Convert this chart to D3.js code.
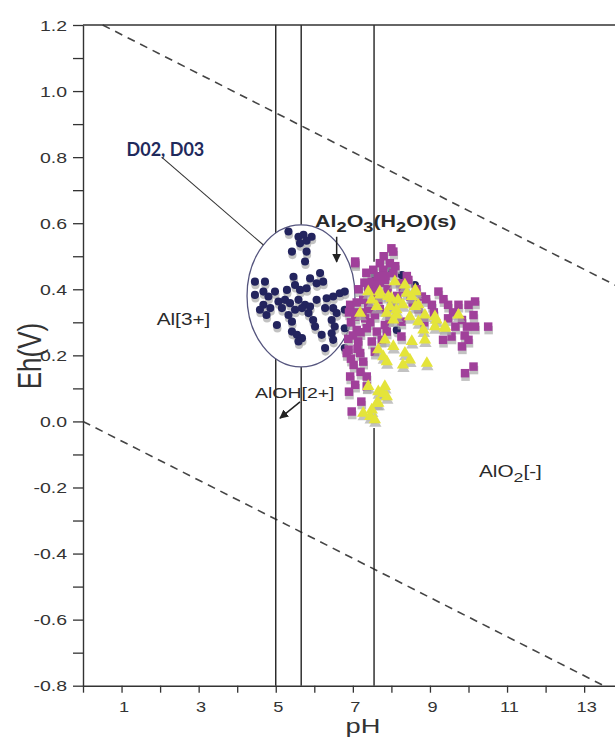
<!DOCTYPE html>
<html><head><meta charset="utf-8">
<script src="https://cdn.jsdelivr.net/npm/d3@7"></script>
<style>html,body{margin:0;padding:0;background:#fff;overflow:hidden}</style>
</head><body><svg id="c" width="615" height="738"></svg>
<script>
// ---- data (pH, Eh in V) ----
const navyPts = [[5.33,0.575],[5.59,0.559],[5.72,0.565],[5.93,0.559],[5.63,0.539],[5.80,0.547],[5.42,0.514],[5.80,0.514],[5.76,0.484],[5.46,0.438],[5.89,0.433],[6.15,0.449],[4.46,0.423],[4.72,0.423],[5.50,0.413],[5.29,0.398],[5.63,0.398],[5.80,0.403],[6.06,0.418],[6.23,0.423],[4.46,0.383],[4.68,0.393],[4.98,0.393],[5.07,0.363],[5.24,0.368],[5.37,0.358],[5.59,0.368],[5.76,0.353],[5.89,0.348],[6.06,0.368],[6.32,0.373],[6.49,0.378],[6.66,0.388],[6.79,0.393],[4.68,0.353],[4.86,0.343],[4.59,0.338],[4.76,0.322],[5.16,0.343],[5.33,0.322],[5.50,0.338],[5.68,0.343],[5.85,0.328],[6.28,0.343],[6.49,0.343],[6.58,0.328],[6.79,0.338],[5.03,0.292],[5.42,0.302],[5.97,0.307],[6.02,0.287],[6.45,0.307],[6.53,0.287],[6.79,0.282],[5.42,0.272],[5.55,0.262],[5.68,0.252],[6.19,0.262],[6.45,0.267],[6.49,0.247],[5.59,0.242],[6.28,0.222],[6.79,0.222],[4.81,0.378],[7.57,0.443],[8.27,0.443],[8.14,0.277],[8.61,0.413],[7.96,0.465]];
const magentaPts = [[8.05,0.514],[7.06,0.479],[7.70,0.479],[7.96,0.479],[7.53,0.459],[7.79,0.459],[8.05,0.449],[7.49,0.423],[7.83,0.428],[8.22,0.418],[8.44,0.428],[9.22,0.393],[6.93,0.353],[7.27,0.368],[7.40,0.353],[7.66,0.368],[8.49,0.378],[8.79,0.378],[9.05,0.353],[9.47,0.353],[9.74,0.353],[10.00,0.353],[10.17,0.363],[7.06,0.317],[7.32,0.312],[7.57,0.322],[7.83,0.292],[8.26,0.302],[9.47,0.312],[9.83,0.307],[10.13,0.322],[10.51,0.287],[7.10,0.277],[7.36,0.282],[7.62,0.272],[7.88,0.272],[9.66,0.287],[9.96,0.287],[10.17,0.287],[7.14,0.242],[7.49,0.242],[7.75,0.247],[8.26,0.257],[9.34,0.247],[9.56,0.257],[10.00,0.247],[6.89,0.217],[7.19,0.207],[7.57,0.211],[9.83,0.227],[7.02,0.171],[7.27,0.181],[6.93,0.136],[7.36,0.136],[9.91,0.146],[10.13,0.166],[7.06,0.111],[7.36,0.106],[6.97,0.030],[6.84,0.207],[8.00,0.524],[7.06,0.484],[7.60,0.40],[7.70,0.42],[7.40,0.40],[7.90,0.40],[7.55,0.38],[7.30,0.42],[7.15,0.40],[7.10,0.36],[7.25,0.33],[7.45,0.30],[7.70,0.34],[8.00,0.35],[8.15,0.38],[8.30,0.40],[8.55,0.36],[8.65,0.40],[8.90,0.37],[9.10,0.33],[9.35,0.37],[7.20,0.27],[7.00,0.26],[7.10,0.33],[7.65,0.44],[8.10,0.47],[7.80,0.50],[8.40,0.44],[8.70,0.34],[6.95,0.30],[6.90,0.33],[6.88,0.25],[6.95,0.19],[7.12,0.22],[7.20,0.15],[6.90,0.09],[7.22,0.06],[7.35,0.45],[7.85,0.44],[7.45,0.34],[7.95,0.31],[9.60,0.33],[9.90,0.26],[8.85,0.30]];
const yellowPts = [[8.09,0.423],[8.35,0.413],[7.40,0.393],[7.70,0.393],[8.62,0.393],[7.92,0.378],[8.17,0.368],[7.62,0.348],[7.96,0.348],[8.30,0.353],[8.70,0.353],[7.19,0.328],[7.88,0.328],[8.13,0.322],[8.48,0.317],[8.87,0.322],[9.13,0.317],[9.74,0.322],[8.05,0.307],[8.70,0.302],[9.13,0.287],[9.39,0.282],[8.83,0.277],[7.83,0.247],[8.05,0.227],[8.53,0.242],[8.87,0.247],[7.66,0.217],[8.35,0.207],[8.48,0.186],[7.88,0.181],[8.92,0.176],[8.30,0.171],[7.40,0.106],[7.83,0.106],[7.66,0.090],[7.88,0.075],[7.62,0.055],[7.49,0.035],[7.27,0.025],[7.45,0.015],[8.53,0.378],[7.49,0.368],[7.70,0.383],[8.00,0.373],[8.40,0.388],[8.62,0.398],[8.62,0.348],[8.13,0.338],[9.17,0.307],[9.39,0.287],[7.79,0.196],[7.79,0.085],[7.66,0.055],[7.57,0.005]];

// boundaries
const verticalLines = [5.0, 5.66, 7.55];
const verticalGaps = [null, null, [-0.02, 0.483]];
const waterUpper = [[0.51,1.2],[14,0.401]];
const waterLower = [[0,0],[13.51,-0.8]];
const ellipseData = {pH:5.655, Eh:0.380, rpH:1.40, rEh:0.215};

// ticks
const xTicks = [0,1,2,3,4,5,6,7,8,9,10,11,12,13,14];
const xTickLabels = [1,3,5,7,9,11,13];
const yTicks = [-0.8,-0.7,-0.6,-0.5,-0.4,-0.3,-0.2,-0.1,0,0.1,0.2,0.3,0.4,0.5,0.6,0.7,0.8,0.9,1.0,1.1,1.2];
const yTickLabels = ['-0.8','-0.6','-0.4','-0.2','0.0','0.2','0.4','0.6','0.8','1.0','1.2'];

const svg = d3.select('#c');
const x = d3.scaleLinear().domain([0,14]).range([83,622.7]);
const y = d3.scaleLinear().domain([-0.8,1.2]).range([685.7,25]);
const FONT = "'Liberation Sans', Arial, sans-serif";
const SX = 1.3;
const ink = '#333';

svg.append('rect').attr('width',615).attr('height',738).attr('fill','#fff');

// arrow marker
const defs = svg.append('defs');
defs.append('marker').attr('id','arr').attr('viewBox','0 0 10 10').attr('refX',9).attr('refY',5)
  .attr('markerWidth',9).attr('markerHeight',9).attr('orient','auto-start-reverse').attr('markerUnits','userSpaceOnUse')
  .append('path').attr('d','M0,0 L10,5 L0,10 z').attr('fill','#222');

// water lines (dashed)
const line = d3.line().x(d=>x(d[0])).y(d=>y(d[1]));
[waterUpper, waterLower].forEach(w=>{
  svg.append('path').attr('d',line(w)).attr('fill','none').attr('stroke','#444')
    .attr('stroke-width',1.6).attr('stroke-dasharray','8,6');
});

// vertical boundary lines (with optional hidden interval)
verticalLines.forEach((v,i)=>{
  const gap = verticalGaps[i];
  const segs = gap ? [[1.2,gap[1]],[gap[0],-0.8]] : [[1.2,-0.8]];
  segs.forEach(s=>svg.append('line').attr('x1',x(v)).attr('x2',x(v)).attr('y1',y(s[0])).attr('y2',y(s[1]))
    .attr('stroke','#222').attr('stroke-width',1.4));
});

// ellipse (white filled)
svg.append('ellipse').attr('cx',x(ellipseData.pH)).attr('cy',y(ellipseData.Eh))
  .attr('rx',x(ellipseData.pH+ellipseData.rpH)-x(ellipseData.pH))
  .attr('ry',y(ellipseData.Eh-ellipseData.rEh)-y(ellipseData.Eh))
  .attr('fill','#fff').attr('stroke','#55557e').attr('stroke-width',1.3);

// markers
function drawSeries(data, symType, size, color){
  const g = svg.append('g');
  const sym = d3.symbol().type(symType).size(size);
  g.selectAll('path.sh').data(data).join('path').attr('class','sh')
    .attr('d',sym).attr('transform',d=>`translate(${x(d[0])+0.5},${y(d[1])+3.5})`)
    .attr('fill','#a8a8a8').attr('opacity',0.7);
  g.selectAll('path.mk').data(data).join('path').attr('class','mk')
    .attr('d',sym).attr('transform',d=>`translate(${x(d[0])},${y(d[1])})`)
    .attr('fill',color);
}
drawSeries(navyPts, d3.symbolCircle, 52, '#23245e');
drawSeries(magentaPts, d3.symbolSquare, 72, '#a0409a');
drawSeries(yellowPts, d3.symbolTriangle, 66, '#e4e43a');

// axes
const yAxis = d3.axisLeft(y).tickValues(yTicks).tickSize(10).tickSizeOuter(0)
  .tickFormat(d=>{const s=d3.format('.1f')(d).replace('−','-'); return yTickLabels.includes(s)?s:'';});
const gy = svg.append('g').attr('transform',`translate(${x(0)},0)`).call(yAxis);
gy.selectAll('text').attr('x',null).attr('dy',null).attr('fill',ink)
  .style('font-family',FONT).style('font-size','15px')
  .attr('dominant-baseline','central').attr('text-anchor','end')
  .attr('transform',`translate(-16,0) scale(${SX},1)`);

const xAxis = d3.axisBottom(x).tickValues(xTicks).tickSize(7).tickSizeOuter(0)
  .tickFormat(d=>xTickLabels.includes(d)?String(d):'');
const gx = svg.append('g').attr('transform',`translate(0,${y(-0.8)})`).call(xAxis);
gx.selectAll('text').attr('y',null).attr('dy',null).attr('fill',ink)
  .style('font-family',FONT).style('font-size','14px').attr('text-anchor','middle')
  .attr('transform',`translate(2,26) scale(${SX},1)`);
[gx,gy].forEach(g=>{g.selectAll('line').attr('stroke',ink).attr('stroke-width',1.3);
  g.select('.domain').attr('stroke',ink).attr('stroke-width',1.4);});

// top frame line
svg.append('line').attr('x1',x(0)).attr('x2',615).attr('y1',y(1.2)).attr('y2',y(1.2))
  .attr('stroke',ink).attr('stroke-width',1.5);

// axis titles
svg.append('text').text('pH').attr('transform',`translate(363,733) scale(${SX},1)`)
  .attr('text-anchor','middle').style('font-family',FONT).style('font-size','21px').attr('fill',ink);
svg.append('text').text('Eh(V)').attr('transform',`translate(41,356) scale(${SX},1) rotate(-90)`)
  .attr('text-anchor','middle').style('font-family',FONT).style('font-size','26px').attr('fill',ink);

// annotation labels (parts: [text, isSub])
function label(parts, pH, Eh, size, weight){
  const t = svg.append('text').attr('transform',`translate(${x(pH)},${y(Eh)}) scale(${SX},1)`)
    .style('font-family',FONT).style('font-size',size+'px').style('font-weight',weight).attr('fill','#2a2a2a');
  let shifted=false;
  parts.forEach(([s,sub])=>{
    const ts=t.append('tspan').text(s);
    if(sub && !shifted){ts.attr('dy',5).style('font-size',(size*0.85)+'px');shifted=true;}
    else if(sub){ts.style('font-size',(size*0.85)+'px');}
    else if(!sub && shifted){ts.attr('dy',-5);shifted=false;}
  });
  return t;
}
label([['Al'],['2',1],['O'],['3',1],['(H'],['2',1],['O)(s)']], 6.02, 0.589, 16.5, 'bold');
label([['Al[3+]']], 1.91, 0.292, 16, 'normal');
label([['AlOH[2+]']], 4.46, 0.071, 15, 'normal');
label([['AlO'],['2',1],['[-]']], 10.27, -0.168, 16, 'normal');

// D02, D03 label and leader
svg.append('text').text('D02, D03').attr('x',x(1.13)).attr('y',y(0.803))
  .style('font-family',"Lato, 'Open Sans', sans-serif").style('font-size','18px').style('font-weight','bold')
  .attr('fill','#1f2a5c');
svg.append('line').attr('x1',x(2.04)).attr('y1',y(0.800)).attr('x2',x(4.68)).attr('y2',y(0.534))
  .attr('stroke','#333').attr('stroke-width',1.1);

// arrows
svg.append('line').attr('x1',x(6.58)).attr('x2',x(6.58)).attr('y1',y(0.559)).attr('y2',y(0.483))
  .attr('stroke','#222').attr('stroke-width',1.5).attr('marker-end','url(#arr)');
svg.append('line').attr('x1',x(5.63)).attr('y1',y(0.059)).attr('x2',x(5.11)).attr('y2',y(0.010))
  .attr('stroke','#222').attr('stroke-width',1.5).attr('marker-end','url(#arr)');
</script></body></html>
